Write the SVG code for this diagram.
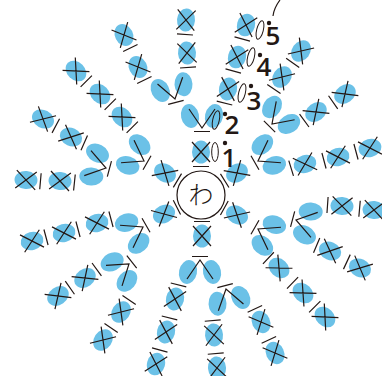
<svg xmlns="http://www.w3.org/2000/svg" width="382" height="376" viewBox="0 0 382 376">
<style>
.b{fill:#6bc1e7}
.l{stroke:#231815;stroke-width:1.2;fill:none}
.o{stroke:#231815;stroke-width:1;fill:none}
.n{font-family:"Open Sans","Liberation Sans",sans-serif;font-size:26px;font-weight:600;fill:#231815;text-anchor:middle}
.d{fill:#231815}
</style>
<defs>
<g id="x"><ellipse class="b" rx="9" ry="11.500"/><path class="l" d="M-9-10 9 10M9-10-9 10M-8 14.500H8"/></g>
<g id="v"><ellipse class="b" cx="-12" cy="-12" rx="9" ry="12" transform="rotate(-12 -12 -12)"/><ellipse class="b" cx="12" cy="-12" rx="9" ry="12" transform="rotate(12 12 -12)"/><path class="l" d="M-13-19 0 0 13-19M-8 3.500H8"/></g>
</defs>
<g id="center"><circle class="l" cx="201" cy="195" r="24"/><text x="201" y="204" font-family="'Noto Sans CJK JP',sans-serif" font-size="25" font-weight="300" fill="#231815" text-anchor="middle">わ</text></g>
<g id="ring1">
<use href="#x" transform="translate(201,152)"/>
<use href="#x" transform="translate(237,173) rotate(58)"/>
<use href="#x" transform="translate(237,215) rotate(119)"/>
<use href="#x" transform="translate(202,236) rotate(180)"/>
<use href="#x" transform="translate(164,214) rotate(-117)"/>
<use href="#x" transform="translate(165,173) rotate(-59)"/>
</g>
<g id="ring2">
<use href="#v" transform="translate(202,128)"/>
<use href="#v" transform="translate(258,161) rotate(60)"/>
<use href="#v" transform="translate(258,229) rotate(120)"/>
<use href="#v" transform="translate(200,260) rotate(180)"/>
<use href="#v" transform="translate(143,227) rotate(-120)"/>
<use href="#v" transform="translate(144,161) rotate(-60)"/>
</g>
<g id="ring3">
<use href="#v" transform="translate(175,99) rotate(-15)"/>
<use href="#x" transform="translate(228,89) rotate(14)"/>
<use href="#v" transform="translate(272,124) rotate(45)"/>
<use href="#x" transform="translate(305,164) rotate(73)"/>
<use href="#v" transform="translate(296,220) rotate(105)"/>
<use href="#x" transform="translate(279,268) rotate(133)"/>
<use href="#v" transform="translate(226,289) rotate(165)"/>
<use href="#x" transform="translate(175,299) rotate(-166)"/>
<use href="#v" transform="translate(129,264) rotate(-128)"/>
<use href="#x" transform="translate(97,223) rotate(-105)"/>
<use href="#v" transform="translate(106,168) rotate(-75)"/>
<use href="#x" transform="translate(122,117) rotate(-45)"/>
</g>
<g id="ring4">
<use href="#x" transform="translate(187,53) rotate(-4)"/>
<use href="#x" transform="translate(237,57) rotate(15)"/>
<use href="#x" transform="translate(282,77) rotate(34)"/>
<use href="#x" transform="translate(316,112) rotate(54)"/>
<use href="#x" transform="translate(338,157) rotate(75)"/>
<use href="#x" transform="translate(342,206) rotate(94)"/>
<use href="#x" transform="translate(330,251) rotate(113)"/>
<use href="#x" transform="translate(303,293) rotate(134)"/>
<use href="#x" transform="translate(261,322) rotate(155)"/>
<use href="#x" transform="translate(214,335) rotate(175)"/>
<use href="#x" transform="translate(166,332) rotate(-166)"/>
<use href="#x" transform="translate(121,312) rotate(-146)"/>
<use href="#x" transform="translate(85,278) rotate(-126)"/>
<use href="#x" transform="translate(64,233) rotate(-105)"/>
<use href="#x" transform="translate(60,181) rotate(-84)"/>
<use href="#x" transform="translate(71,137) rotate(-66)"/>
<use href="#x" transform="translate(100,94) rotate(-45)"/>
<use href="#x" transform="translate(138,67) rotate(-26)"/>
</g>
<g id="ring5">
<use href="#x" transform="translate(186,20) rotate(4)"/>
<use href="#x" transform="translate(246,25) rotate(15)"/>
<use href="#x" transform="translate(301,51) rotate(35)"/>
<use href="#x" transform="translate(345,94) rotate(55)"/>
<use href="#x" transform="translate(370,148) rotate(75)"/>
<use href="#x" transform="translate(374,210) rotate(95)"/>
<use href="#x" transform="translate(360,268) rotate(115)"/>
<use href="#x" transform="translate(325,317) rotate(135)"/>
<use href="#x" transform="translate(275,353) rotate(155)"/>
<use href="#x" transform="translate(217,368) rotate(175)"/>
<use href="#x" transform="translate(156,364) rotate(-165)"/>
<use href="#x" transform="translate(103,340) rotate(-146)"/>
<use href="#x" transform="translate(58,296) rotate(-125)"/>
<use href="#x" transform="translate(32,241) rotate(-105)"/>
<use href="#x" transform="translate(26,180) rotate(-85)"/>
<use href="#x" transform="translate(43,119) rotate(-62)"/>
<use href="#x" transform="translate(76,71) rotate(-45)"/>
<use href="#x" transform="translate(124,35) rotate(-26)"/>
</g>
<g id="markers">
<ellipse class="o" cx="215" cy="152" rx="3.300" ry="9.500"/>
<ellipse class="o" cx="216" cy="120" rx="3.300" ry="9.500" transform="rotate(12 216 120)"/>
<ellipse class="o" cx="242" cy="93" rx="3.300" ry="9.500" transform="rotate(14 242 93)"/>
<ellipse class="o" cx="251" cy="57" rx="3.300" ry="9.500" transform="rotate(14 251 57)"/>
<ellipse class="o" cx="260" cy="30" rx="3.300" ry="9.500" transform="rotate(14 260 30)"/>
<circle class="d" cx="225" cy="143" r="2.200"/>
<circle class="d" cx="225" cy="114" r="2.200"/>
<circle class="d" cx="251" cy="86" r="2.200"/>
<circle class="d" cx="260" cy="55" r="2.200"/>
<circle class="d" cx="269" cy="23" r="2.200"/>
<path class="l" d="M273 16Q274 8 280 0"/>
<text class="n" x="229" y="167">1</text>
<text class="n" x="232" y="134">2</text>
<text class="n" x="254" y="110">3</text>
<text class="n" x="264" y="76">4</text>
<text class="n" x="273" y="45">5</text>
</g>
</svg>
